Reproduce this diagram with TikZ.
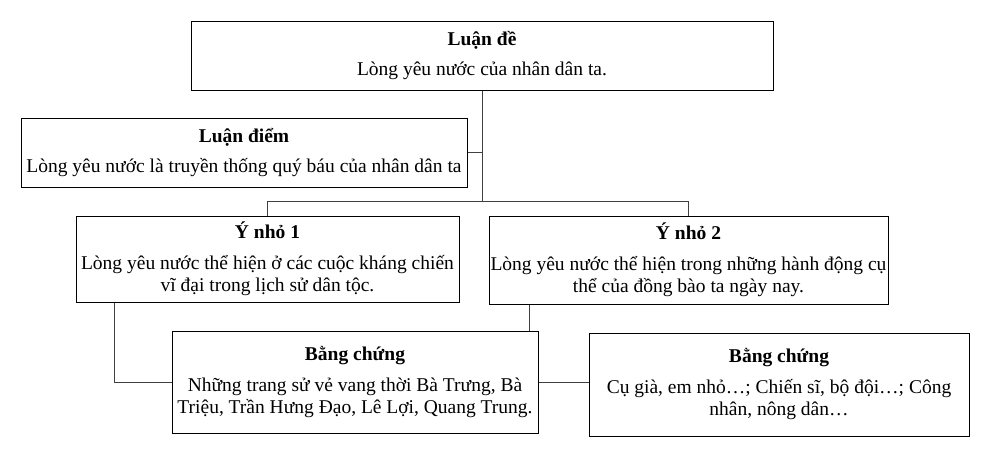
\documentclass[tikz,border=0pt]{standalone}
\usepackage{fontspec}
\setmainfont{Liberation Serif}
\usepackage{tikz}
\tikzset{
  hop/.style={draw, line width=1pt, inner sep=0pt, align=center,
    font=\fontsize{19.5}{22}\selectfont},
  noi/.style={line width=0.8pt, color=black!75}
}

\begin{document}
\begin{tikzpicture}[x=1pt,y=-1pt]
   	\useasboundingbox (0,0) rectangle (993,456);

	%Luan de
   	\node[hop, minimum width=582, minimum height=69] (de) at (482,55.5)
   	  {\textbf{Luận đề}\\[8pt] Lòng yêu nước của nhân dân ta.};
	%Luan diem
   	\node[hop, minimum width=446, minimum height=69] (diem) at (244,152.5)
   	  {\textbf{Luận điểm}\\[8pt] Lòng yêu nước là truyền thống quý báu của nhân dân ta};

	%Hai y nho
   	\node[hop, minimum width=383, minimum height=86] (y1) at (267.5,259)
   	  {\textbf{Ý nhỏ 1}\\[9pt] Lòng yêu nước thể hiện ở các cuộc kháng chiến\\ vĩ đại trong lịch sử dân tộc.};
   	\node[hop, minimum width=399, minimum height=88] (y2) at (688.5,260)
   	  {\textbf{Ý nhỏ 2}\\[9pt] Lòng yêu nước thể hiện trong những hành động cụ\\ thể của đồng bào ta ngày nay.};

	%Bang chung
   	\node[hop, minimum width=366, minimum height=102] (bc1) at (355,382)
   	  {\textbf{Bằng chứng}\\[9pt] Những trang sử vẻ vang thời Bà Trưng, Bà\\ Triệu, Trần Hưng Đạo, Lê Lợi, Quang Trung.};
   	\node[hop, minimum width=380, minimum height=103] (bc2) at (779,384.5)
   	  {\textbf{Bằng chứng}\\[9pt] Cụ già, em nhỏ…; Chiến sĩ, bộ đội…; Công\\ nhân, nông dân…};

	%Cac duong noi
   	\coordinate (tru) at (482,201);
   	\draw[noi] (de.south) -- (tru);
   	\draw[noi] (diem.east) -- (diem.east -| tru);
   	\draw[noi] (y1.north) -- (y1.north |- tru) -| (y2.north);
   	\draw[noi] ([xshift=-153.5]y1.south) |- (bc1.west);
   	\draw[noi] ([xshift=-159]y2.south) -- ([xshift=-159]y2.south |- bc1.north);
   	\draw[noi] (bc1.east) -- (bc1.east -| bc2.west);
\end{tikzpicture}
\end{document}
